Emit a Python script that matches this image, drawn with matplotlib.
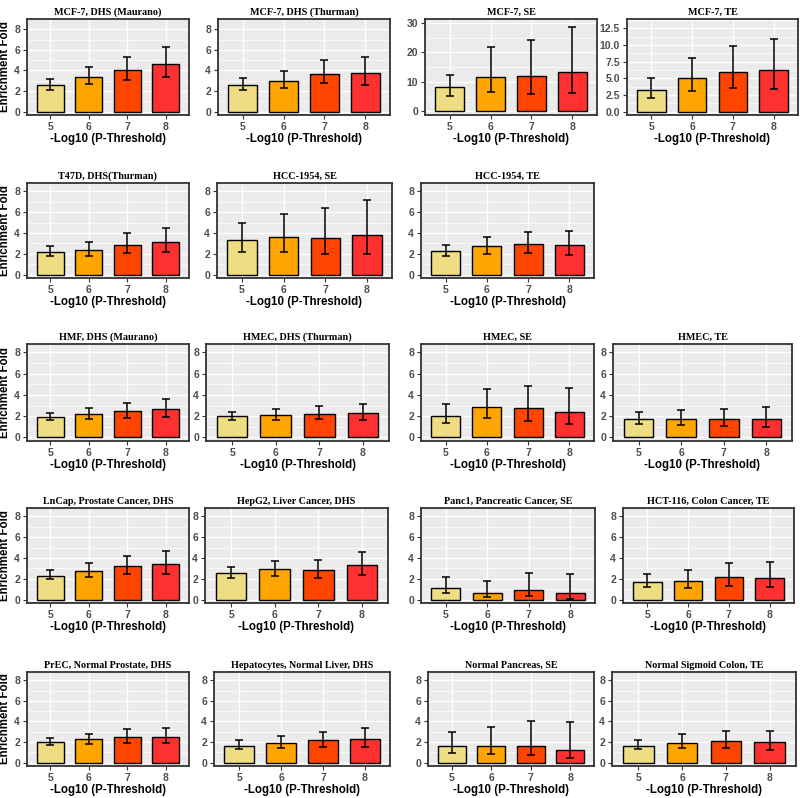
import numpy as np
import matplotlib.pyplot as plt
from matplotlib.ticker import MultipleLocator

thresholds = ['5', '6', '7', '8']
bar_colors = ['#EEDD82', '#FFA500', '#FF4500', '#FF3030']

titles = [
    'MCF-7, DHS (Maurano)', 'MCF-7, DHS (Thurman)', 'MCF-7, SE', 'MCF-7, TE',
    'T47D, DHS(Thurman)', 'HCC-1954, SE', 'HCC-1954, TE',
    'HMF, DHS (Maurano)', 'HMEC, DHS (Thurman)', 'HMEC, SE', 'HMEC, TE',
    'LnCap, Prostate Cancer, DHS', 'HepG2, Liver Cancer, DHS',
    'Panc1, Pancreatic Cancer, SE', 'HCT-116, Colon Cancer, TE',
    'PrEC, Normal Prostate, DHS', 'Hepatocytes, Normal Liver, DHS',
    'Normal Pancreas, SE', 'Normal Sigmoid Colon, TE',
]

fold = [
    [2.6, 3.4, 4.0, 4.6], [2.6, 3.0, 3.7, 3.8], [8.1, 11.8, 11.9, 13.4], [3.2, 5.0, 5.9, 6.2],
    [2.2, 2.35, 2.85, 3.1], [3.3, 3.6, 3.55, 3.8], [2.25, 2.7, 2.95, 2.85],
    [1.95, 2.2, 2.5, 2.7], [2.0, 2.1, 2.2, 2.3], [2.05, 2.9, 2.75, 2.4], [1.75, 1.7, 1.7, 1.7],
    [2.3, 2.75, 3.2, 3.45], [2.55, 2.9, 2.8, 3.3], [1.15, 0.65, 0.95, 0.6], [1.7, 1.8, 2.15, 2.1],
    [2.0, 2.25, 2.5, 2.5], [1.65, 1.95, 2.15, 2.3], [1.6, 1.65, 1.65, 1.25], [1.65, 1.95, 2.05, 2.0],
]
err_low = [
    [2.1, 2.65, 3.05, 3.4], [2.1, 2.3, 2.8, 2.6], [5.3, 6.4, 5.8, 6.3], [2.0, 3.1, 3.5, 3.4],
    [1.75, 1.75, 2.05, 2.15], [2.2, 2.2, 1.95, 2.0], [1.75, 2.0, 2.1, 1.9],
    [1.6, 1.75, 1.85, 1.95], [1.6, 1.65, 1.7, 1.65], [1.35, 1.8, 1.55, 1.25], [1.3, 1.2, 1.05, 1.0],
    [1.95, 2.15, 2.45, 2.5], [2.05, 2.25, 2.05, 2.35], [0.65, 0.25, 0.35, 0.1], [1.2, 1.15, 1.3, 1.2],
    [1.7, 1.8, 1.95, 1.9], [1.35, 1.45, 1.5, 1.55], [0.9, 0.8, 0.7, 0.4], [1.3, 1.4, 1.4, 1.25],
]
err_high = [
    [3.15, 4.3, 5.3, 6.3], [3.3, 3.9, 5.0, 5.35], [12.3, 21.7, 24.3, 28.8], [5.1, 8.0, 9.9, 10.9],
    [2.75, 3.15, 3.95, 4.45], [4.95, 5.85, 6.35, 7.15], [2.85, 3.6, 4.1, 4.15],
    [2.35, 2.8, 3.25, 3.65], [2.4, 2.65, 2.95, 3.15], [3.15, 4.55, 4.8, 4.7], [2.4, 2.55, 2.7, 2.9],
    [2.8, 3.5, 4.2, 4.65], [3.15, 3.75, 3.8, 4.6], [2.15, 1.8, 2.55, 2.45], [2.45, 2.8, 3.5, 3.65],
    [2.4, 2.8, 3.25, 3.35], [2.15, 2.6, 3.0, 3.35], [2.95, 3.5, 4.05, 3.95], [2.2, 2.75, 3.05, 3.1],
]

# panel boxes in pixels: left, right, top, bottom
boxes = [
    (27, 189, 19, 115), (218, 390, 19, 115), (425, 597, 19, 115), (627, 798, 19, 115),
    (27, 189, 183, 278), (217, 392, 183, 278), (421, 594, 183, 278),
    (27, 189, 344, 441), (206, 389, 344, 441), (421, 594, 344, 441), (613, 792, 344, 441),
    (27, 189, 508, 603), (205, 388, 508, 603), (421, 595, 508, 603), (623, 794, 508, 603),
    (27, 189, 672, 766), (214, 390, 672, 766), (428, 594, 672, 766), (612, 796, 672, 766),
]
first_col = {0, 4, 7, 11, 15}

W, H = 800, 798
fig = plt.figure(figsize=(W / 100, H / 100), dpi=100)
x = np.arange(len(thresholds))

for i, title in enumerate(titles):
    l, r, t, b = boxes[i]
    ax = fig.add_axes([l / W, 1 - b / H, (r - l) / W, (b - t) / H])
    ax.set_facecolor('#EBEBEB')
    v = np.array(fold[i])
    lo = v - np.array(err_low[i])
    hi = np.array(err_high[i]) - v
    ax.bar(x, v, width=0.7, color=bar_colors, edgecolor='black', linewidth=1.0, zorder=3)
    ax.errorbar(x, v, yerr=[lo, hi], fmt='none', ecolor='black', elinewidth=1.1,
                capsize=2.8, capthick=1.1, zorder=4)

    if title == 'MCF-7, SE':
        ax.set_ylim(-1.3, 31.4)
        ax.yaxis.set_major_locator(MultipleLocator(10))
        ax.yaxis.set_minor_locator(MultipleLocator(5))
    elif title == 'MCF-7, TE':
        ax.set_ylim(-0.5, 13.9)
        ax.yaxis.set_major_locator(MultipleLocator(2.5))
        ax.yaxis.set_minor_locator(MultipleLocator(1.25))
        ax.yaxis.set_major_formatter(plt.FormatStrFormatter('%.1f'))
    else:
        ax.set_ylim(-0.33, 9.0 if i < 4 else 8.8)
        ax.yaxis.set_major_locator(MultipleLocator(2))
        ax.yaxis.set_minor_locator(MultipleLocator(1))
    ax.set_xlim(-0.6, 3.6)
    ax.set_xticks(x)
    ax.set_xticklabels(thresholds)
    for lab in ax.get_xticklabels() + ax.get_yticklabels():
        lab.set_family('Liberation Sans')
        lab.set_fontweight('bold')

    ax.grid(which='major', color='white', linewidth=1.0, zorder=0)
    ax.grid(which='minor', axis='y', color='white', linewidth=0.5, zorder=0)
    ax.set_axisbelow(True)
    ax.tick_params(which='major', length=3, width=0.8, color='#333333', labelcolor='#4D4D4D',
                   labelsize=7.5, pad=2)
    ax.tick_params(which='minor', length=0)
    for sp in ax.spines.values():
        sp.set_color('#333333')
        sp.set_linewidth(1.3)

    ax.set_title(title, fontsize=7.3, fontweight='bold', family='Liberation Serif', pad=3)
    ax.set_xlabel('-Log10 (P-Threshold)', fontsize=8.3, fontweight='bold',
                  family='Liberation Sans', labelpad=1)
    if i in first_col:
        ax.set_ylabel('Enrichment Fold', fontsize=8.3, fontweight='bold',
                      family='Liberation Sans')
        ax.yaxis.set_label_coords(-16.0 / (r - l), 0.5)

fig.savefig('out.png', dpi=100)
